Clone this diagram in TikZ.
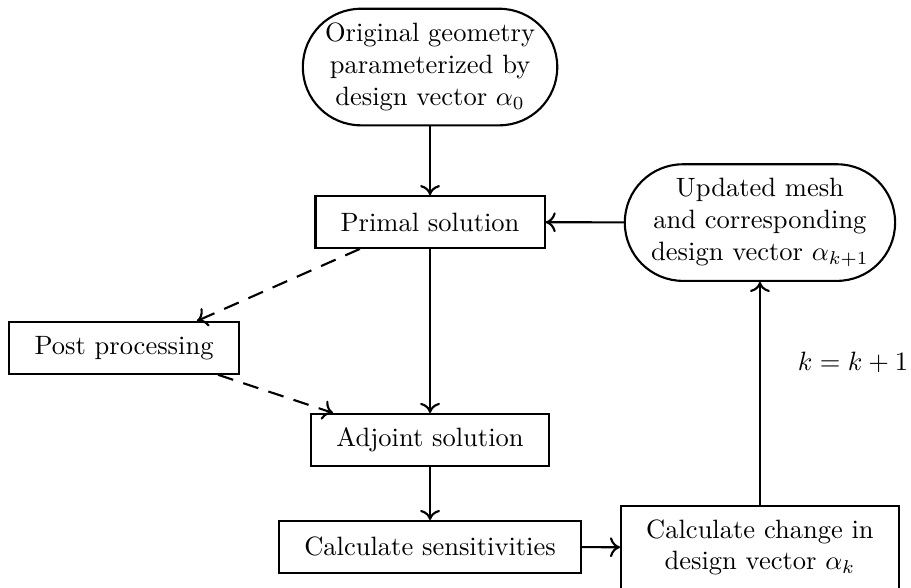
\documentclass[tikz,border=0pt]{standalone}
\usetikzlibrary{arrows.meta}
\begin{document}
\begin{tikzpicture}[x=1pt,y=1pt,
  every node/.style={line width=0.8pt},
  boxnode/.style={draw, rectangle, inner xsep=9.5pt, inner ysep=5pt, minimum height=19.5pt, align=center},
  roundnode/.style={draw, rectangle, rounded corners=21.9pt, inner xsep=2pt, inner ysep=5pt, align=center, minimum height=44pt},
  arr/.style={line width=0.8pt, -{To[length=3.8pt,width=7.5pt]}},
  darr/.style={arr, dashed, dash pattern=on 6pt off 4pt}]
\useasboundingbox (0,0) rectangle (343.8,-221.9);
\node[roundnode, minimum width=96pt] (orig) at (162.3,-25.3) {Original geometry\\parameterized by\\design vector $\alpha_0$};
\node[boxnode] (primal) at (162.3,-83.8) {Primal solution};
\node[roundnode, minimum width=102pt] (upd) at (286.8,-84) {Updated mesh\\and corresponding\\design vector $\alpha_{k+1}$};
\node[boxnode] (post) at (46.8,-131.3) {Post processing};
\node[boxnode] (adj) at (162.3,-166) {Adjoint solution};
\node[boxnode] (sens) at (162.3,-206.4) {Calculate sensitivities};
\node[boxnode] (chg) at (286.8,-206.6) {Calculate change in\\design vector $\alpha_k$};
\node (k) at (321.9,-136.6) {$k=k+1$};
\draw[arr] (orig) -- (primal);
\draw[arr] (primal) -- (adj);
\draw[arr] (adj) -- (sens);
\draw[arr] (sens) -- (chg);
\draw[arr] (chg) -- (upd);
\draw[arr] (upd) -- (primal);
\draw[darr] ([xshift=-26.5pt]primal.south) -- ([xshift=27.5pt]post.north);
\draw[darr] ([xshift=35.5pt]post.south) -- ([xshift=-36.6pt]adj.north);
\end{tikzpicture}
\end{document}
